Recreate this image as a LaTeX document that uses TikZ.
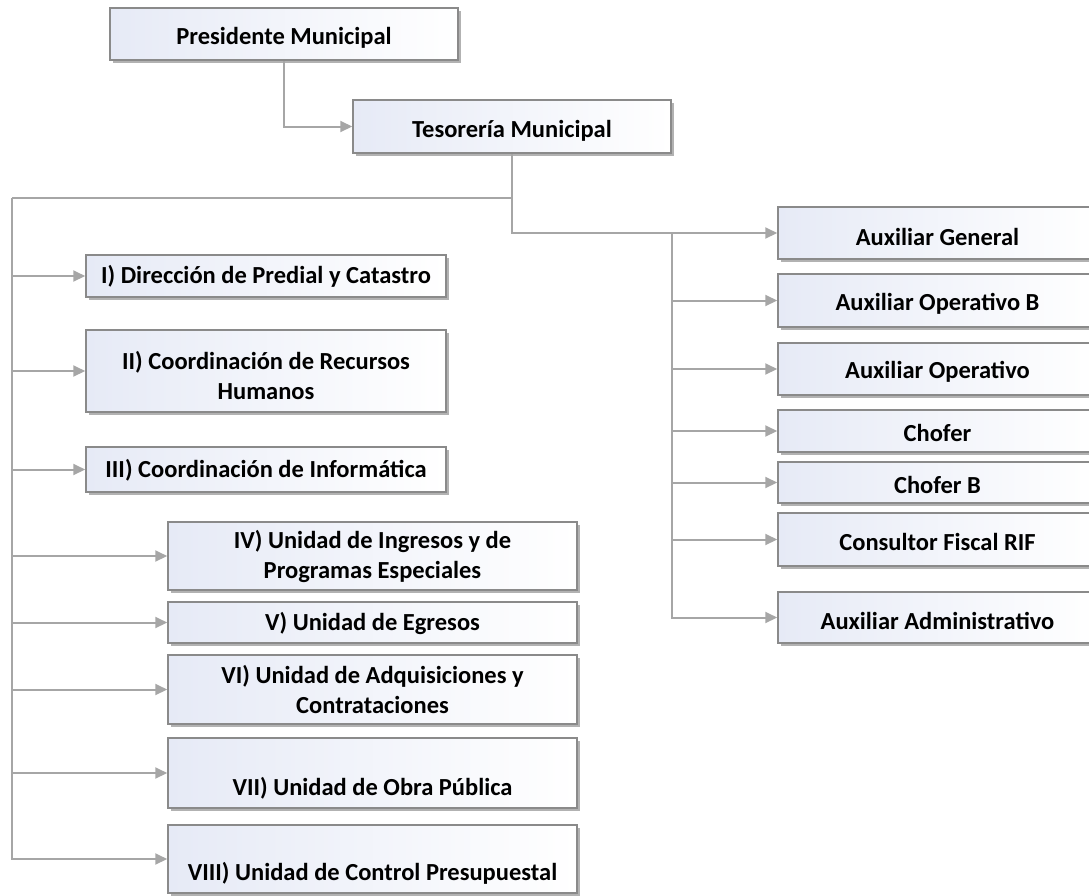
\documentclass[tikz,border=0pt]{standalone}
\usepackage{fontspec}
\setmainfont{Carlito}
\usetikzlibrary{arrows.meta,shadows}
\definecolor{bordergray}{HTML}{8A8A8A}
\definecolor{linegray}{HTML}{A6A6A6}
\definecolor{boxblue}{HTML}{E6EAF6}
\tikzset{
  orgbox/.style={draw=bordergray, line width=1.5pt, left color=boxblue, right color=white,
    drop shadow={shadow xshift=2.5pt, shadow yshift=-2.5pt, opacity=0.3, fill=black},
    inner sep=0pt},
  orgtxt/.style={font=\fontsize{24.5}{30}\selectfont\bfseries, align=center, text=black, inner sep=0pt},
  conn/.style={draw=linegray, line width=2pt, -{Triangle[length=12pt,width=11pt]}},
  bus/.style={draw=linegray, line width=2pt},
}
\newcommand\orgnode[7]{%
  \node[orgbox, minimum width=#4pt, minimum height=#5pt,
        label={[orgtxt, yshift=-#6pt]center:{#7}}] (#1) at (#2,#3) {};}
\begin{document}
\begin{tikzpicture}[x=1pt,y=-1pt]
\useasboundingbox (0,0) rectangle (1089,895);
% top
\orgnode{pm}{284}{34}{348}{52}{4}{Presidente Municipal}
\orgnode{tes}{512}{126.5}{318}{53}{4}{Tesorería Municipal}
% right column
\orgnode{ag}{937.5}{233}{319}{52}{4}{Auxiliar General}
\orgnode{aob}{937.5}{300.5}{319}{53}{3}{Auxiliar Operativo B}
\orgnode{ao}{937.5}{369}{319}{52}{3}{Auxiliar Operativo}
\orgnode{ch}{937.5}{431}{319}{42}{2}{Chofer}
\orgnode{chb}{937.5}{482.5}{319}{41}{2}{Chofer B}
\orgnode{cf}{937.5}{539.5}{319}{53}{2}{Consultor Fiscal RIF}
\orgnode{aa}{937.5}{617.5}{319}{51}{3}{Auxiliar Administrativo}
% left column
\orgnode{d1}{266}{276}{360}{42}{0}{I) Dirección de Predial y Catastro}
\orgnode{d2}{266}{371}{360}{82}{4}{II) Coordinación de Recursos\\Humanos}
\orgnode{d3}{266}{469.5}{360}{45}{1}{III) Coordinación de Informática}
\orgnode{d4}{372.5}{556}{409}{68}{0}{IV) Unidad de Ingresos y de\\Programas Especiales}
\orgnode{d5}{372.5}{622.5}{409}{41}{1}{V) Unidad de Egresos}
\orgnode{d6}{372.5}{689.5}{409}{69}{0}{VI) Unidad de Adquisiciones y\\Contrataciones}
\orgnode{d7}{372.5}{773}{409}{70}{15}{VII) Unidad de Obra Pública}
\orgnode{d8}{372.5}{859}{409}{68}{14}{VIII) Unidad de Control Presupuestal}
% connectors
\draw[conn] (pm.south) |- (tes.west);
\draw[conn] (tes.south) |- (ag.west);
\coordinate (lb) at (12,198);
\draw[bus] (tes.south |- lb) -- (lb);
\draw[conn] (lb) |- (d8.west);
\foreach \n in {d1,d2,d3,d4,d5,d6,d7}
  \draw[conn] (lb |- \n.west) -- (\n.west);
\draw[conn] (tes.east |- ag.west) |- (aa.west);
\foreach \n in {aob,ao,ch,chb,cf}
  \draw[conn] (tes.east |- \n.west) -- (\n.west);
\end{tikzpicture}
\end{document}
